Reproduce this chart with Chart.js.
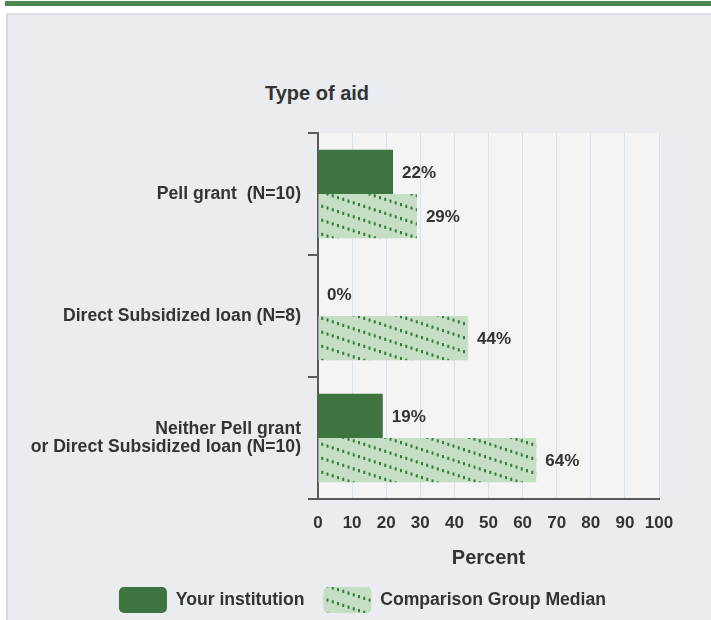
<!DOCTYPE html>
<html lang="en">
<head>
    <meta charset="UTF-8">
    <title>Type of aid</title>
    <script src="https://cdn.jsdelivr.net/npm/chart.js"></script>
    <style>
        body { margin: 0; background: #fff; width: 711px; height: 620px; overflow: hidden; position: relative; font-family: "Liberation Sans", Arial, sans-serif; }
        .topbar { position: absolute; left: 5px; top: 1px; width: 706px; height: 5px; background: #4b8a4f; }
        .panel { position: absolute; left: 6px; top: 13px; right: 0; bottom: 0; background: #ebecf0; border-left: 2px solid #d8d9dc; border-top: 2px solid #dcdde0; }
        .title { position: absolute; left: 217px; top: 82px; width: 200px; text-align: center; font-weight: bold; font-size: 20px; color: #333; }
        .wrap { position: absolute; left: 0; top: 0; width: 711px; height: 623px; }
    </style>
</head>
<body>
    <div class="topbar"></div>
    <div class="panel"></div>
    <div class="title">Type of aid</div>
    <div class="wrap"><canvas id="chart"></canvas></div>

    <script>
        const categories = ['Pell grant  (N=10)', 'Direct Subsidized loan (N=8)', ['Neither Pell grant', 'or Direct Subsidized loan (N=10)']];
        const yourInstitution = [22, 0, 19];
        const comparisonMedian = [29, 44, 64];
        const percentTicks = [0, 10, 20, 30, 40, 50, 60, 70, 80, 90, 100];

        const darkGreen = '#3e743f';
        const lightGreen = '#c4dfc4';
        const dotGreen = '#3a7a3c';
        const textColor = '#333';
        const family = '"Liberation Sans", Arial, sans-serif';
        const tickFont = { family: family, size: 17, weight: 'bold' };
        const labelFont = { family: family, size: 17.6, weight: 'bold', lineHeight: 1.03 };

        // dotted diagonal hatch for the comparison bars
        function makeHatch() {
            const c = document.createElement('canvas');
            c.width = 42; c.height = 14;
            const g = c.getContext('2d');
            g.fillStyle = lightGreen;
            g.fillRect(0, 0, 42, 14);
            g.fillStyle = dotGreen;
            for (let i = 0; i < 8; i++) {
                const x = i * 5.25 + 1, y = i * 1.75;
                g.fillRect(x, y, 2, 3.2);
                if (y + 3.2 > 14) g.fillRect(x, y - 14, 2, 3.2);
            }
            return g.createPattern(c, 'repeat');
        }
        const hatch = makeHatch();

        const plotBg = {
            id: 'plotBg',
            beforeDraw(chart) {
                const { ctx, chartArea: a } = chart;
                ctx.save();
                ctx.fillStyle = '#f4f4f4';
                ctx.fillRect(a.left, a.top, a.right - a.left, a.bottom - a.top);
                ctx.restore();
            }
        };

        // legend sits a bit right of the canvas centre in the original
        const legendShift = {
            id: 'legendShift',
            afterLayout(chart) {
                chart.legend.left += 23;
                chart.legend.right += 23;
            }
        };

        const valueLabels = {
            id: 'valueLabels',
            afterDatasetsDraw(chart) {
                const ctx = chart.ctx;
                ctx.save();
                ctx.font = 'bold 17px ' + family;
                ctx.fillStyle = textColor;
                ctx.textAlign = 'left';
                ctx.textBaseline = 'middle';
                chart.data.datasets.forEach((ds, i) => {
                    chart.getDatasetMeta(i).data.forEach((bar, j) => {
                        ctx.fillText(ds.data[j] + '%', bar.x + 9, bar.y + 1);
                    });
                });
                ctx.restore();
            }
        };

        new Chart(document.getElementById('chart'), {
            type: 'bar',
            data: {
                labels: categories,
                datasets: [
                    { label: 'Your institution', data: yourInstitution, backgroundColor: darkGreen, borderWidth: 0 },
                    { label: 'Comparison Group Median', data: comparisonMedian, backgroundColor: hatch, borderWidth: 0 }
                ]
            },
            options: {
                indexAxis: 'y',
                responsive: true,
                maintainAspectRatio: false,
                animation: false,
                layout: { padding: { top: 133, right: 52, bottom: 0, left: 20 } },
                datasets: { bar: { categoryPercentage: 0.725, barPercentage: 1 } },
                scales: {
                    x: {
                        min: 0, max: 100,
                        afterBuildTicks(scale) { scale.ticks = percentTicks.map(v => ({ value: v })); },
                        afterFit(scale) { scale.height = 69; },
                        grid: { color: '#d6e2ef', lineWidth: 1, drawTicks: false },
                        border: { color: '#5a5a5a', width: 2 },
                        ticks: { color: textColor, font: tickFont, padding: 14, maxRotation: 0, minRotation: 0, autoSkip: false },
                        title: { display: true, text: 'Percent', color: textColor, font: { family: family, size: 20, weight: 'bold', lineHeight: 1 }, padding: { top: 0, bottom: 0 } }
                    },
                    y: {
                        afterFit(scale) { scale.width = 318 - 20; },
                        grid: { offset: true, drawOnChartArea: false, tickLength: 10, color: '#5a5a5a', lineWidth: 2 },
                        border: { color: '#5a5a5a', width: 2 },
                        ticks: { color: textColor, font: labelFont, padding: 7 }
                    }
                },
                plugins: {
                    legend: {
                        position: 'bottom',
                        labels: { boxWidth: 48, boxHeight: 26, useBorderRadius: true, borderRadius: 5, padding: 19, color: textColor, font: labelFont }
                    },
                    tooltip: { enabled: false }
                }
            },
            plugins: [plotBg, legendShift, valueLabels]
        });
    </script>
</body>
</html>
